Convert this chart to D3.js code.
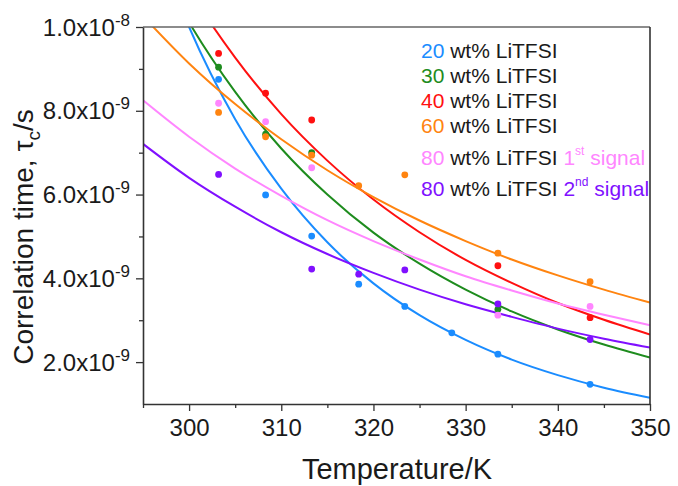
<!DOCTYPE html>
<html><head><meta charset="utf-8">
<script src="https://cdn.jsdelivr.net/npm/d3@7/dist/d3.min.js"></script>
<style>
html,body{margin:0;padding:0;background:#fff;}
svg{display:block;font-family:"Liberation Sans",Arial,sans-serif;}
</style></head>
<body><svg id="chart" width="678" height="486"></svg>
<script>
// ---- data (tau_c in units of 1e-9 s) ----
const seriesNames = ["20", "30", "40", "60", "80a", "80b"];
const seriesColors = ["#1a8cff", "#1e8c1e", "#ff1010", "#ff8410", "#ff86ff", "#8010ff"];

// measured points: temperature (K) and tau_c (x1e-9 s)
const temps20 = [303.2, 308.3, 313.3, 318.4, 323.4, 328.5, 333.5, 343.5];
const tau20   = [8.75, 5.99, 5.01, 3.86, 3.33, 2.70, 2.19, 1.47];
const temps30 = [303.2, 308.3, 313.3, 333.5];
const tau30   = [9.04, 7.44, 7.00, 3.26];
const temps40 = [303.2, 308.3, 313.3, 333.5, 343.5];
const tau40   = [9.37, 8.42, 7.78, 4.30, 3.06];
const temps60 = [303.2, 308.3, 313.3, 318.4, 323.4, 333.5, 343.5];
const tau60   = [7.96, 7.38, 6.94, 6.21, 6.47, 4.60, 3.92];
const temps80a = [303.2, 308.3, 313.3, 333.5, 343.5];
const tau80a   = [8.18, 7.74, 6.64, 3.12, 3.33];
const temps80b = [303.2, 313.3, 318.4, 323.4, 333.5, 343.5];
const tau80b   = [6.48, 4.22, 4.10, 4.20, 3.39, 2.54];

// fitted curves at these temperatures
const fitTemps = [295, 300, 305, 310, 315, 320, 325, 330, 335, 340, 345, 350];
const fit20  = [12.9, 10.0, 7.80, 6.14, 4.86, 3.88, 3.12, 2.53, 2.06, 1.69, 1.39, 1.15];
const fit30  = [12.17, 10.11, 8.45, 7.10, 6.00, 5.09, 4.35, 3.73, 3.21, 2.78, 2.42, 2.11];
const fit40  = [12.87, 10.89, 9.27, 7.92, 6.81, 5.88, 5.10, 4.44, 3.89, 3.41, 3.01, 2.66];
const fit60  = [10.26, 9.13, 8.16, 7.32, 6.58, 5.94, 5.38, 4.89, 4.45, 4.07, 3.73, 3.42];
const fit80a = [8.25, 7.38, 6.62, 5.97, 5.39, 4.89, 4.45, 4.05, 3.71, 3.40, 3.13, 2.88];
const fit80b = [7.21, 6.40, 5.71, 5.10, 4.58, 4.13, 3.73, 3.38, 3.08, 2.80, 2.56, 2.35];

// axes
const xTicks = [300, 310, 320, 330, 340, 350];
const xMinorTicks = [295, 305, 315, 325, 335, 345];
const yTicks = [2, 4, 6, 8, 10];
const yMinorTicks = [3, 5, 7, 9];
const yTickMantissa = ["2.0x10", "4.0x10", "6.0x10", "8.0x10", "1.0x10"];
const yTickExponent = ["-9", "-9", "-9", "-9", "-8"];

// legend
const legendNumbers = ["20", "30", "40", "60", "80", "80"];
const legendMiddle = " wt% LiTFSI";
const legendSuffixNum = ["", "", "", "", "1", "2"];
const legendSuffixSup = ["", "", "", "", "st", "nd"];
const legendSuffixTail = ["", "", "", "", " signal", " signal"];

const xTitle = "Temperature/K";

// ---- drawing ----
const svg = d3.select("#chart");
const L = 143, R = 650, T = 27, B = 404;
const x = d3.scaleLinear().domain([295, 350]).range([L, R]);
const y = d3.scaleLinear().domain([1, 10]).range([B, T]);

svg.append("defs").append("clipPath").attr("id", "clip")
  .append("rect").attr("x", L).attr("y", T).attr("width", R - L).attr("height", B - T);

const pointSets = [[temps20, tau20], [temps30, tau30], [temps40, tau40], [temps60, tau60], [temps80a, tau80a], [temps80b, tau80b]];
const fitSets = [fit20, fit30, fit40, fit60, fit80a, fit80b];

const line = d3.line().curve(d3.curveMonotoneX).x(d => x(d[0])).y(d => y(d[1]));
const plot = svg.append("g").attr("clip-path", "url(#clip)");
fitSets.forEach((f, i) => {
  plot.append("path")
    .datum(fitTemps.map((t, j) => [t, f[j]]))
    .attr("d", line).attr("fill", "none")
    .attr("stroke", seriesColors[i]).attr("stroke-width", 2);
});
pointSets.forEach((ps, i) => {
  plot.append("g").selectAll("circle")
    .data(ps[0].map((t, j) => [t, ps[1][j]]))
    .join("circle")
    .attr("cx", d => x(d[0])).attr("cy", d => y(d[1])).attr("r", 3.4)
    .attr("fill", seriesColors[i]);
});

// frame
const axisColor = "#333";
svg.append("line").attr("x1", L).attr("x2", R).attr("y1", T).attr("y2", T)
  .attr("stroke", "#666").attr("stroke-width", 1.6);
svg.append("line").attr("x1", R).attr("x2", R).attr("y1", T).attr("y2", B)
  .attr("stroke", axisColor).attr("stroke-width", 1.6);

// x axis
const xAxis = svg.append("g").attr("transform", `translate(0,${B})`)
  .call(d3.axisBottom(x).tickValues(xTicks).tickSize(7).tickSizeOuter(0).tickFormat(d3.format("d")));
xAxis.select(".domain").attr("stroke", axisColor).attr("stroke-width", 1.6);
xAxis.selectAll(".tick line").attr("stroke", axisColor).attr("stroke-width", 1.3);
xAxis.selectAll(".tick text").attr("font-size", 24).attr("fill", "#1a1a1a")
  .attr("font-family", "Liberation Sans, Arial, sans-serif").attr("dy", "0.72em").attr("y", 15);
const xMinor = svg.append("g").attr("transform", `translate(0,${B})`)
  .call(d3.axisBottom(x).tickValues(xMinorTicks).tickSize(4).tickFormat(""));
xMinor.select(".domain").remove();
xMinor.selectAll(".tick line").attr("stroke", axisColor).attr("stroke-width", 1.3);

// y axis
const yAxis = svg.append("g").attr("transform", `translate(${L},0)`)
  .call(d3.axisLeft(y).tickValues(yTicks).tickSize(7).tickSizeOuter(0).tickFormat(""));
yAxis.select(".domain").attr("stroke", axisColor).attr("stroke-width", 1.6);
yAxis.selectAll(".tick line").attr("stroke", axisColor).attr("stroke-width", 1.3);
const yMinor = svg.append("g").attr("transform", `translate(${L},0)`)
  .call(d3.axisLeft(y).tickValues(yMinorTicks).tickSize(4).tickFormat(""));
yMinor.select(".domain").remove();
yMinor.selectAll(".tick line").attr("stroke", axisColor).attr("stroke-width", 1.3);

yTicks.forEach((v, i) => {
  const t = svg.append("text").attr("x", 130).attr("y", y(v) + 8.5)
    .attr("text-anchor", "end").attr("font-size", 24).attr("fill", "#1a1a1a");
  t.append("tspan").text(yTickMantissa[i]);
  t.append("tspan").attr("font-size", 17).attr("dy", -10).text(yTickExponent[i]);
});

// axis titles
svg.append("text").attr("x", 397).attr("y", 479).attr("text-anchor", "middle")
  .attr("font-size", 29).attr("fill", "#1a1a1a").text(xTitle);
const yt = svg.append("text").attr("transform", "translate(33,237) rotate(-90)")
  .attr("text-anchor", "middle").attr("font-size", 28).attr("fill", "#1a1a1a");
yt.append("tspan").text("Correlation time, \u03C4");
yt.append("tspan").attr("font-size", 19).attr("dy", 7).text("c");
yt.append("tspan").attr("dy", -7).text("/s");

// legend
const legendY = [58, 83, 108, 133, 165, 196];
legendNumbers.forEach((n, i) => {
  const t = svg.append("text").attr("x", 421).attr("y", legendY[i]).attr("font-size", 21);
  t.append("tspan").attr("fill", seriesColors[i]).text(n);
  t.append("tspan").attr("fill", "#1a1a1a").text(legendMiddle + (legendSuffixNum[i] ? " " : ""));
  if (legendSuffixNum[i]) {
    t.append("tspan").attr("fill", seriesColors[i]).text(legendSuffixNum[i]);
    t.append("tspan").attr("fill", seriesColors[i]).attr("font-size", 12).attr("dy", -10).text(legendSuffixSup[i]);
    t.append("tspan").attr("fill", seriesColors[i]).attr("dy", 10).text(legendSuffixTail[i]);
  }
});
</script></body></html>
